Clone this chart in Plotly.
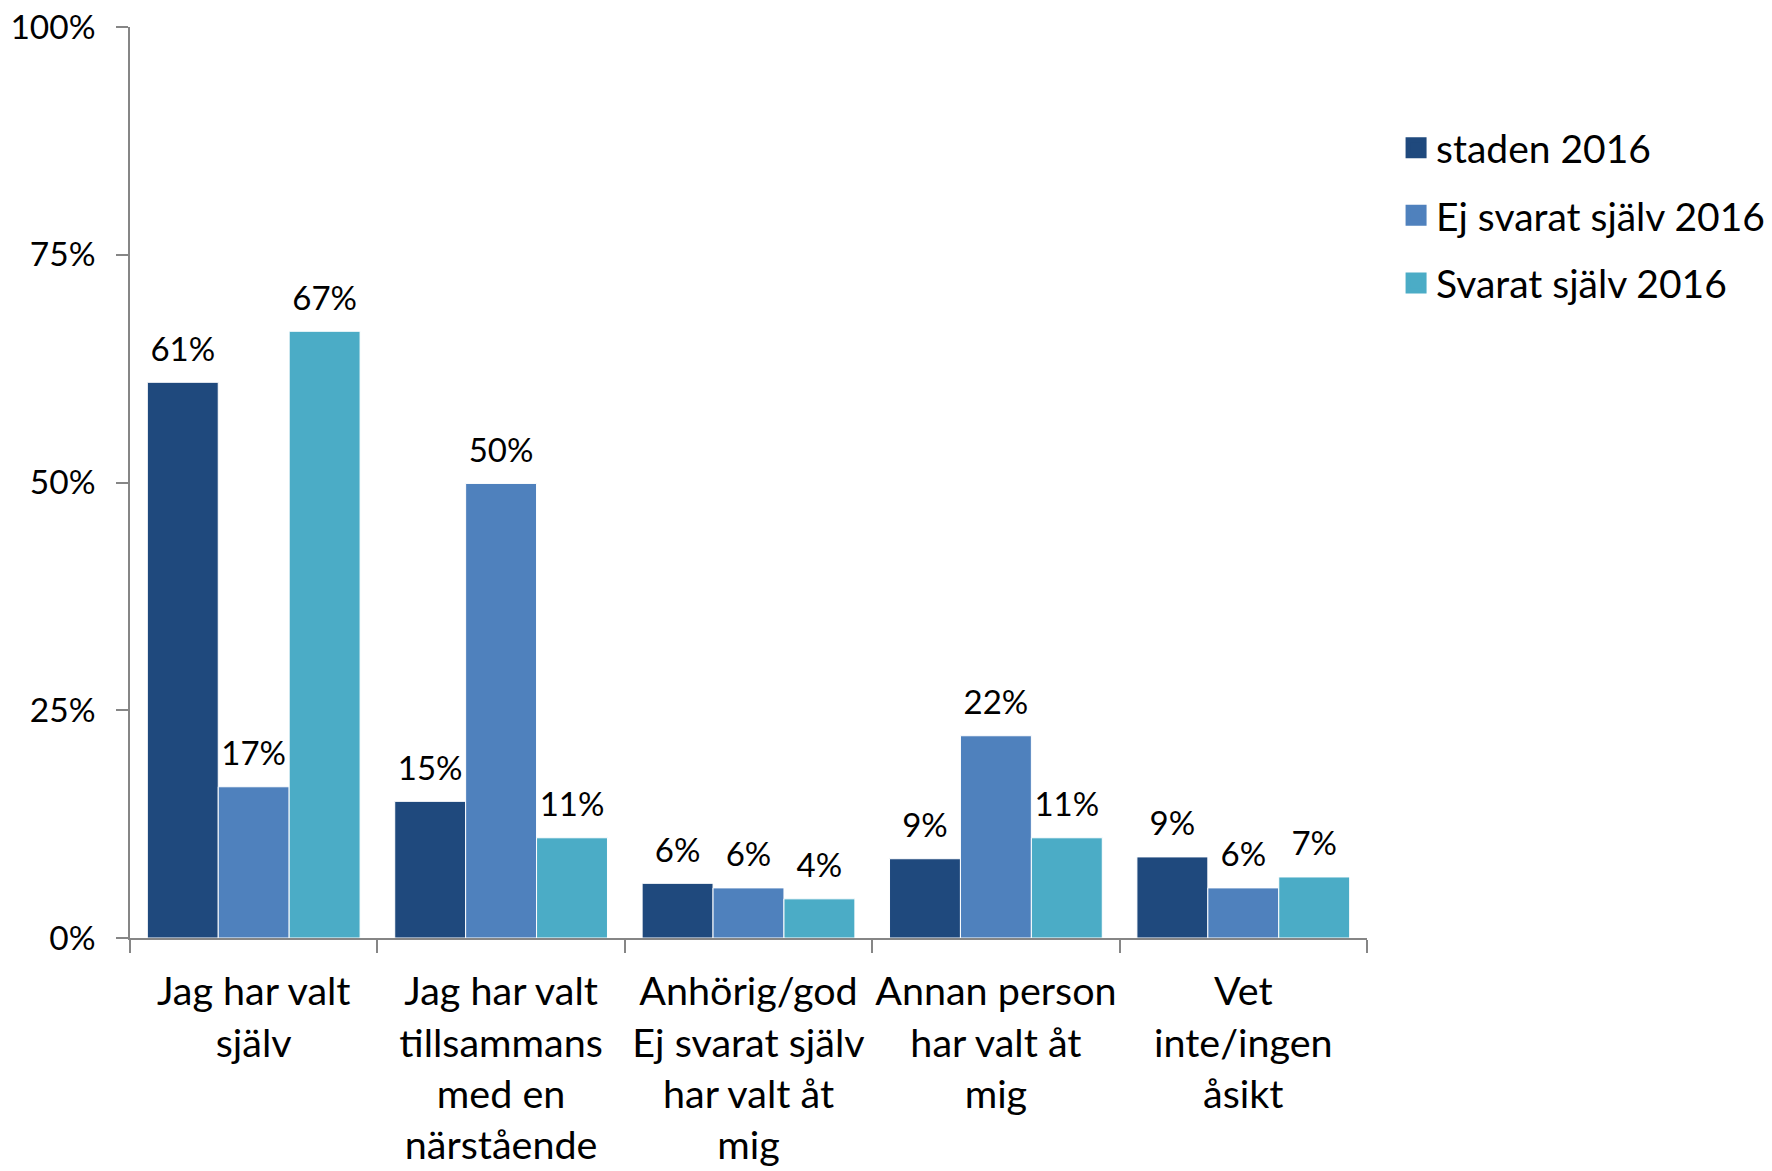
import plotly.graph_objects as go

# Survey answers: who chose the service provider
categories = [
    "Jag har valt<br>själv",
    "Jag har valt<br>tillsammans<br>med en<br>närstående",
    "Anhörig/god<br>Ej svarat själv<br>har valt åt<br>mig",
    "Annan person<br>har valt åt<br>mig",
    "Vet<br>inte/ingen<br>åsikt",
]

series_names = ["staden 2016", "Ej svarat själv 2016", "Svarat själv 2016"]
staden_2016 = [0.610, 0.150, 0.060, 0.087, 0.089]
ej_svarat_2016 = [0.166, 0.499, 0.055, 0.222, 0.055]
svarat_2016 = [0.666, 0.110, 0.043, 0.110, 0.067]

colors = ["#1F497D", "#4F81BD", "#4BACC6"]
font_family = "Lato, Carlito, Calibri, sans-serif"

fig = go.Figure()

for i, (name, values, color) in enumerate(zip(series_names, [staden_2016, ej_svarat_2016, svarat_2016], colors)):
    group = f"g{i}"
    fig.add_trace(go.Bar(
        x=categories,
        y=values,
        name=name,
        offsetgroup=group,
        marker=dict(color=color, line=dict(color="white", width=1)),
        showlegend=False,
        hoverinfo="skip",
    ))
    # value labels above each bar, grouped like the bars
    fig.add_trace(go.Scatter(
        x=categories,
        y=values,
        offsetgroup=group,
        mode="markers+text",
        marker=dict(size=20, opacity=0),
        text=[f"{v:.0%}" for v in values],
        textposition="top center",
        textfont=dict(size=33, color="black", family=font_family),
        cliponaxis=False,
        showlegend=False,
        hoverinfo="skip",
    ))
    # legend swatch
    fig.add_trace(go.Scatter(
        x=[None], y=[None],
        mode="markers",
        name=name,
        legendgroup=name,
        marker=dict(symbol="square", size=16, color=color, line=dict(color=color, width=5)),
        showlegend=True,
    ))

fig.update_layout(
    width=1772,
    height=1171,
    margin=dict(l=130, r=405, t=27, b=233, autoexpand=False),
    paper_bgcolor="white",
    plot_bgcolor="white",
    barmode="group",
    bargap=0.14,
    bargroupgap=0,
    scattermode="group",
    scattergap=0.14,
    font=dict(family=font_family, color="black"),
    legend=dict(
        x=1.0235, y=0.9025, xanchor="left", yanchor="top",
        font=dict(size=39, family=font_family, color="black"),
        tracegroupgap=14,
        bgcolor="rgba(0,0,0,0)",
    ),
)

fig.update_yaxes(
    range=[0, 1],
    tickvals=[0, 0.25, 0.5, 0.75, 1],
    tickformat=".0%",
    showgrid=False,
    zeroline=False,
    showline=True,
    linecolor="#868686",
    linewidth=1.5,
    ticks="outside",
    ticklen=12,
    tickcolor="#868686",
    tickwidth=1.5,
    ticklabelstandoff=14,
    ticklabeloverflow="allow",
    tickfont=dict(size=33.5, family=font_family, color="black"),
)

fig.update_xaxes(
    type="category",
    showgrid=False,
    showline=True,
    linecolor="#868686",
    linewidth=1.5,
    ticks="outside",
    tickson="boundaries",
    ticklen=13,
    tickcolor="#868686",
    tickwidth=1.5,
    tickangle=0,
    ticklabelstandoff=18,
    ticklabeloverflow="allow",
    tickfont=dict(size=39.5, family=font_family, color="black"),
)

fig.write_html("out.html")
